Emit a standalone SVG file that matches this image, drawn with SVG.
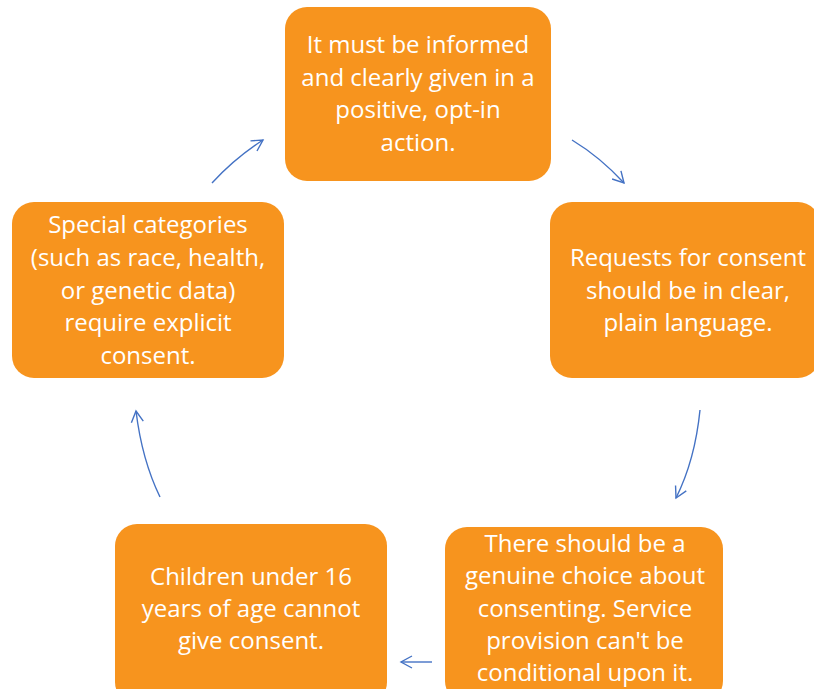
<svg xmlns="http://www.w3.org/2000/svg" width="814" height="689" viewBox="0 0 814 689">
<defs>
<marker id="ah" markerWidth="16" markerHeight="16" refX="12" refY="6" orient="auto" markerUnits="userSpaceOnUse" viewBox="0 0 16 12">
<path d="M1,0 L12,6 L1,12" fill="none" stroke="#4472C4" stroke-width="1.4"/>
</marker>
<style>
.box{fill:#F7941E;}
.t{fill:#fff;font-family:"Open Sans","Noto Sans",sans-serif;font-size:24px;text-anchor:middle;}
.c{fill:none;stroke:#4472C4;stroke-width:1.4;marker-end:url(#ah);}
</style>
</defs>
<rect width="814" height="689" fill="#fff"/>
<g id="n1"><rect class="box" x="285" y="7" width="266" height="174" rx="22"/>
<text class="t" x="418" y="53">It must be informed</text>
<text class="t" x="418" y="86">and clearly given in a</text>
<text class="t" x="418" y="118">positive, opt-in</text>
<text class="t" x="418" y="151">action.</text></g>
<g id="n2"><rect class="box" x="550" y="202" width="270" height="176" rx="22"/>
<text class="t" x="688" y="266">Requests for consent</text>
<text class="t" x="688" y="299">should be in clear,</text>
<text class="t" x="688" y="331">plain language.</text></g>
<g id="n3"><rect class="box" x="445" y="527" width="278" height="176" rx="22"/>
<text class="t" x="585" y="552">There should be a</text>
<text class="t" x="585" y="584">genuine choice about</text>
<text class="t" x="585" y="617">consenting. Service</text>
<text class="t" x="585" y="649">provision can't be</text>
<text class="t" x="585" y="681">conditional upon it.</text></g>
<g id="n4"><rect class="box" x="115" y="524" width="272" height="180" rx="22"/>
<text class="t" x="251" y="585">Children under 16</text>
<text class="t" x="251" y="617">years of age cannot</text>
<text class="t" x="251" y="649">give consent.</text></g>
<g id="n5"><rect class="box" x="12" y="202" width="272" height="176" rx="22"/>
<text class="t" x="148" y="233">Special categories</text>
<text class="t" x="148" y="266">(such as race, health,</text>
<text class="t" x="148" y="299">or genetic data)</text>
<text class="t" x="148" y="331">require explicit</text>
<text class="t" x="148" y="364">consent.</text></g>
<g id="connectors">
<path class="c" d="M212,183 Q235,158 263,140"/>
<path class="c" d="M572,140 Q600,157 624,183"/>
<path class="c" d="M700,410 Q695,460 676,498"/>
<path class="c" d="M432,662 L401,662"/>
<path class="c" d="M160,497 Q142,460 136,411"/>
</g>
</svg>
